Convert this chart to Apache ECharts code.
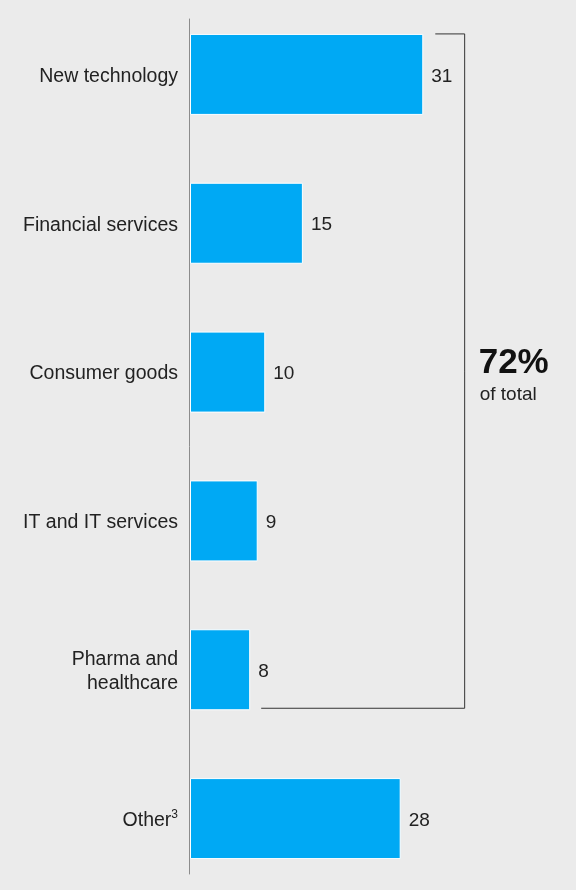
<!DOCTYPE html>
<html>
<head>
<meta charset="utf-8">
<script src="https://cdn.jsdelivr.net/npm/echarts@6/dist/echarts.min.js"></script>
<style>
  html, body { margin: 0; padding: 0; background: #ebebeb; overflow: hidden; }
  #frame { width: 576px; height: 890px; overflow: hidden; }
  #chart { width: 576px; height: 896px; }
</style>
</head>
<body>
<div id="frame"><div id="chart"></div></div>
<script>
// Sectors, top to bottom
const categories = ['New technology', 'Financial services', 'Consumer goods', 'IT and IT services', 'Pharma and\nhealthcare', 'Other{sup|3}'];
// Share by sector
const values = [31, 15, 10, 9, 8, 28];
// Bracket annotation: first five sectors combined
const bracketShare = '72%';
const bracketNote = 'of total';
const bracketCount = 5;

const FONT = '"Liberation Sans", Arial, sans-serif';
const TEXT = '#222222';
const BAR = '#00a9f4';

const chart = echarts.init(document.getElementById('chart'), null, { renderer: 'canvas' });

const option = {
  backgroundColor: '#ebebeb',
  animation: false,
  grid: [
    { left: 190, width: 301, top: 0, height: 893 },
    { left: 189, width: 301, top: 19, height: 855 }
  ],
  xAxis: [
    { type: 'value', gridIndex: 0, min: 0, max: 40, show: false },
    { type: 'value', gridIndex: 1, min: 0, max: 40, show: false }
  ],
  yAxis: [
    {
      type: 'category', gridIndex: 0, data: categories, inverse: true,
      axisLine: { show: false }, axisTick: { show: false },
      axisLabel: {
        margin: 12, color: TEXT, fontFamily: FONT, fontSize: 19.5, lineHeight: 24, align: 'right',
        padding: [4, 0, 0, 0],
        rich: { sup: { fontSize: 12, verticalAlign: 'top', color: TEXT, fontFamily: FONT, padding: [0, 0, 8, 0] } }
      }
    },
    {
      type: 'category', gridIndex: 1, data: [''],
      axisLine: { show: true, lineStyle: { color: '#8c8c8c', width: 1 } },
      axisTick: { show: false }, axisLabel: { show: false }
    }
  ],
  series: [{
    type: 'bar',
    xAxisIndex: 0, yAxisIndex: 0,
    data: values,
    barWidth: 81,
    itemStyle: { color: BAR, borderColor: '#ffffff', borderWidth: 1 },
    label: {
      show: true, position: 'right', distance: 8, offset: [0, 2],
      color: TEXT, fontFamily: FONT, fontSize: 19
    }
  }]
};

chart.setOption(option);

// Bracket spanning the first sectors, placed from the axis scales
function drawBracket() {
  const half = 40.5;
  const topY = chart.convertToPixel({ gridIndex: 0 }, [0, 0])[1] - half;
  const botY = chart.convertToPixel({ gridIndex: 0 }, [0, bracketCount - 1])[1] + half - 2;
  const topStart = chart.convertToPixel({ gridIndex: 0 }, [values[0], 0])[0] + 12;
  const botStart = chart.convertToPixel({ gridIndex: 0 }, [values[bracketCount - 1], 0])[0] + 11;
  const xRight = chart.convertToPixel({ gridIndex: 0 }, [36.5, 0])[0];
  const midY = (topY + botY) / 2;
  chart.setOption({
    graphic: [
      {
        type: 'polyline', silent: true,
        shape: { points: [[topStart, topY], [xRight, topY], [xRight, botY], [botStart, botY]] },
        style: { stroke: '#333333', lineWidth: 1, fill: null }
      },
      {
        type: 'text', left: xRight + 14, top: midY - 25,
        style: { text: bracketShare, fill: '#111111', font: 'bold 35px ' + FONT }
      },
      {
        type: 'text', left: xRight + 15, top: midY + 14,
        style: { text: bracketNote, fill: TEXT, font: '19px ' + FONT }
      }
    ]
  });
}
drawBracket();
</script>
</body>
</html>
